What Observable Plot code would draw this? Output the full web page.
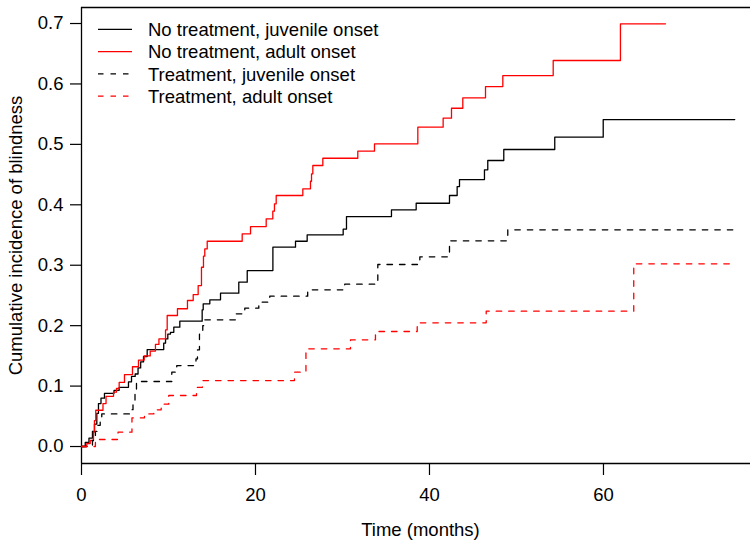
<!DOCTYPE html>
<html><head><meta charset="utf-8">
<script src="https://cdn.jsdelivr.net/npm/d3@7"></script>
<script src="https://cdn.jsdelivr.net/npm/@observablehq/plot@0.6"></script>
<style>
body{margin:0;background:#fff;overflow:hidden;}
#chart{position:relative;width:750px;height:544px;}
</style>
</head><body><div id="chart"></div>
<script>
const seriesNames = ["No treatment, juvenile onset", "No treatment, adult onset", "Treatment, juvenile onset", "Treatment, adult onset"];
const xTitle = "Time (months)";
const yTitle = "Cumulative incidence of blindness";
const xTicks = [0, 20, 40, 60];
const yTicks = [0, 0.1, 0.2, 0.3, 0.4, 0.5, 0.6, 0.7];

// No treatment, juvenile onset
const ntJuvTime = [0, 0.43, 0.86, 1.26, 1.49, 1.76, 1.95, 2.24, 2.64, 3.74, 4.33, 5.4, 5.75, 6.17, 6.5, 6.8, 7.13, 7.55, 9.45, 9.66, 9.92, 10.23, 10.61, 11.3, 13.87, 13.99, 14.75, 15.98, 18.08, 19.05, 22.0, 24.6, 25.94, 30.08, 30.46, 35.63, 38.47, 42.3, 43.18, 43.45, 46.32, 46.7, 48.54, 54.4, 59.97];
const ntJuvCum  = [0, 0.007, 0.014, 0.025, 0.037, 0.055, 0.071, 0.080, 0.088, 0.093, 0.098, 0.107, 0.116, 0.120, 0.130, 0.140, 0.149, 0.1605, 0.171, 0.178, 0.186, 0.189, 0.1975, 0.2074, 0.2262, 0.2361, 0.2427, 0.2537, 0.2719, 0.2912, 0.3298, 0.3397, 0.3503, 0.3596, 0.3806, 0.3917, 0.4026, 0.4154, 0.4302, 0.4418, 0.4579, 0.4733, 0.4915, 0.5119, 0.5411];
// No treatment, adult onset
const ntAdTime = [0, 0.61, 1.0, 1.38, 1.49, 1.64, 2.47, 2.82, 3.68, 4.02, 4.33, 4.94, 5.86, 6.55, 7.21, 7.9, 8.5, 8.9, 9.66, 9.85, 11.03, 12.18, 12.84, 13.41, 13.79, 14.02, 14.17, 14.45, 18.47, 19.43, 21.23, 21.99, 22.18, 22.38, 25.44, 26.32, 26.44, 26.59, 27.74, 31.76, 33.68, 38.66, 41.57, 42.53, 43.83, 46.44, 48.43, 54.22, 61.95];
const ntAdCum  = [0, 0.005, 0.010, 0.024, 0.043, 0.060, 0.071, 0.083, 0.090, 0.096, 0.106, 0.119, 0.132, 0.143, 0.150, 0.158, 0.169, 0.178, 0.193, 0.2168, 0.228, 0.2416, 0.2515, 0.2664, 0.2967, 0.315, 0.327, 0.3397, 0.352, 0.364, 0.3768, 0.3894, 0.4016, 0.4154, 0.4264, 0.439, 0.4513, 0.465, 0.477, 0.4887, 0.5009, 0.5284, 0.5433, 0.5598, 0.5770, 0.5957, 0.6139, 0.6388, 0.6995];
// Treatment, juvenile onset
const tJuvTime = [0, 1.26, 1.6, 1.84, 2.15, 2.33, 5.69, 5.92, 6.15, 6.32, 10.38, 10.95, 13.16, 13.33, 13.56, 13.94, 14.14, 17.7, 18.77, 20.38, 21.64, 26.0, 30.26, 34.06, 38.89, 42.3, 49.0];
const tJuvCum  = [0, 0.010, 0.025, 0.035, 0.046, 0.054, 0.061, 0.072, 0.090, 0.1076, 0.123, 0.134, 0.145, 0.160, 0.186, 0.200, 0.2096, 0.2196, 0.2289, 0.2388, 0.2488, 0.2593, 0.2686, 0.3012, 0.3139, 0.3404, 0.3586];
// Treatment, adult onset
const tAdTime = [0, 1.6, 4.2, 5.8, 7.24, 8.31, 9.16, 10.03, 13.22, 13.9, 24.48, 25.8, 30.92, 33.79, 38.59, 46.52, 63.48];
const tAdCum  = [0, 0.0116, 0.0237, 0.0475, 0.054, 0.0607, 0.070, 0.0844, 0.098, 0.1092, 0.1230, 0.1617, 0.1766, 0.1903, 0.2047, 0.2239, 0.3023];
// last follow-up time of each curve
const endTimes = [75.09, 67.13, 75.09, 75.09];

const seriesColors = ["#000000", "#ff0000", "#000000", "#ff0000"];
const seriesDash = [null, null, "5.5,7", "5.5,7"];
const times = [ntJuvTime, ntAdTime, tJuvTime, tAdTime];
const cums = [ntJuvCum, ntAdCum, tJuvCum, tAdCum];

const series = seriesNames.map((name, i) => {
  const n = Math.min(times[i].length, cums[i].length);
  const rows = [];
  for (let k = 0; k < n; k++) rows.push({t: times[i][k], v: cums[i][k], name});
  rows.push({t: endTimes[i], v: cums[i][n - 1], name});
  return {name, rows, color: seriesColors[i], dash: seriesDash[i]};
});

const yDomain = [-0.0281, 0.7265];
const xDomain = [0, 76.9];
const font = "'Liberation Sans', Arial, Helvetica, sans-serif";

const plot = Plot.plot({
  width: 750, height: 544,
  marginLeft: 81, marginRight: 0, marginTop: 7, marginBottom: 81,
  x: {domain: xDomain},
  y: {domain: yDomain},
  style: {fontFamily: font, fontSize: "18.5px", color: "#000", background: "#fff", overflow: "visible"},
  marks: [
    Plot.ruleY([yDomain[0]], {stroke: "#000", strokeWidth: 1.3}),
    Plot.ruleY([yDomain[1]], {stroke: "#000", strokeWidth: 1.3}),
    Plot.ruleX([xDomain[0]], {stroke: "#000", strokeWidth: 1.3}),
    Plot.axisX({ticks: xTicks, tickSize: 12, tickPadding: 12, label: null, strokeWidth: 1.2}),
    Plot.axisY({ticks: yTicks, tickSize: 11, tickPadding: 7, tickFormat: d3.format(".1f"), label: null, strokeWidth: 1.2}),
    ...series.map(s => Plot.line(s.rows, {x: "t", y: "v", curve: "step-after", stroke: s.color, strokeWidth: 1.3, strokeDasharray: s.dash})),
    Plot.text([xTitle], {text: d => d, frameAnchor: "bottom", textAnchor: "middle", dy: 72, dx: 4.5, fontSize: 18.5}),
    Plot.text([yTitle], {text: d => d, frameAnchor: "left", textAnchor: "middle", rotate: -90, dx: -65, fontSize: 18.5})
  ]
});

// legend (R-style, no box)
const svg = d3.select(plot);
const lg = svg.append("g").attr("font-family", font).attr("font-size", "18.5px").attr("text-anchor", "start");
series.forEach((s, i) => {
  const cy = 29.3 + i * 22.3;
  lg.append("line").attr("x1", 98).attr("x2", 132).attr("y1", cy).attr("y2", cy)
    .attr("stroke", s.color).attr("stroke-width", 1.3)
    .attr("stroke-dasharray", s.dash ? s.dash : null);
  lg.append("text").attr("x", 148).attr("y", cy).attr("dy", "0.36em").attr("text-anchor", "start").attr("fill", "#000").text(s.name);
});

document.getElementById("chart").appendChild(plot);
</script>
</body></html>
